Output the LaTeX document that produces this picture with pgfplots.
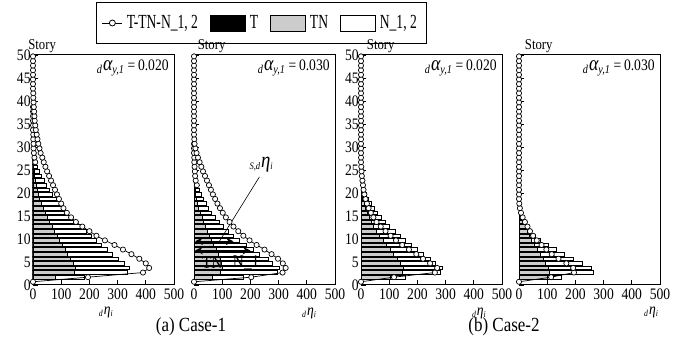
\documentclass[border=0pt]{standalone}
\usepackage{fontspec}
\setmainfont{Liberation Serif}[FakeStretch=0.85]
\newfontfamily\condfont{Liberation Serif}[FakeStretch=0.68]
\usepackage{pgfplots}
\pgfplotsset{compat=1.18}
\usepackage{pgfplotstable}

% circles: y = story position; p1..p4 = panels
\pgfplotstableread{
y p1 p2 p3 p4
0.7 0 0 0 0
1.7 195 203 117 114
2.7 390 314 262 195
3.7 412 325 270 192
4.7 400 315 245 168
5.7 377 298 220 140
6.7 349 275 196 116
7.7 319 250 170 97
8.7 289 222 146 80
9.7 255 197 124 63
10.7 225 175 105 50
11.7 200 157 87 39
12.7 175 140 70 30
13.7 152 126 55 21
14.7 135 113 44 13
15.7 120 102 35 7
16.7 108 92 27 3
17.7 100 83 21 1
18.7 92 75 16 0
19.7 85 67 12 0
20.7 78 60 9 0
21.7 71 53 7 0
22.7 64 46 5 0
23.7 57 39 3 0
24.7 50 32 2 0
25.7 44 26 1 0
26.7 38 20 0 0
27.7 33 14 0 0
28.7 27 9 0 0
29.7 23 5 0 0
30.7 19 2 0 0
31.7 16 1 0 0
32.7 13 0 0 0
33.7 10 0 0 0
34.7 8 0 0 0
35.7 6 0 0 0
36.7 5 0 0 0
37.7 4 0 0 0
38.7 3 0 0 0
39.7 2 0 0 0
40.7 1 0 0 0
41.7 1 0 0 0
42.7 0 0 0 0
43.7 0 0 0 0
44.7 0 0 0 0
45.7 0 0 0 0
46.7 0 0 0 0
47.7 0 0 0 0
48.7 0 0 0 0
49.7 0 0 0 0
}\circtab

% bars: t = TN, n = N_1,2 end (total)
\pgfplotstableread{
y t1 n1 t2 n2 t3 n3 t4 n4
1.7 80 183 65 174 105 156 100 150
2.7 148 335 95 297 145 280 108 265
3.7 150 340 100 303 150 290 103 258
4.7 143 322 98 279 140 265 95 226
5.7 133 302 92 262 128 245 85 191
6.7 123 282 85 232 115 222 75 159
7.7 113 262 78 209 103 200 65 133
8.7 103 243 70 185 90 178 55 103
9.7 94 225 62 160 78 158 45 77
10.7 85 207 55 140 66 138 36 59
11.7 76 188 48 122 55 120 28 42
12.7 67 170 40 105 45 102 21 31
13.7 58 153 34 90 36 86 15 21
14.7 50 137 28 76 28 72 10 14
15.7 42 122 22 63 21 58 6 9
16.7 35 108 16 52 15 46 3 5
17.7 29 95 12 42 10 35 0 0
18.7 23 82 8 33 6 26 0 0
19.7 18 70 5 25 4 18 0 0
20.7 14 58 3 18 2 12 0 0
21.7 10 48 1 11 1 7 0 0
22.7 7 39 0 6 0 4 0 0
23.7 5 31 0 0 0 0 0 0
24.7 3 24 0 0 0 0 0 0
25.7 2 17 0 0 0 0 0 0
26.7 1 11 0 0 0 0 0 0
27.7 0 6 0 0 0 0 0 0
}\bartab

\pgfplotstableread{
y q
26.7 8
27.7 5
28.7 3
29.7 2
30.7 2
31.7 1
32.7 1
33.7 0
34.7 0
35.7 0
36.7 0
37.7 0
38.7 0
}\innerA

\pgfplotstableread{
y q
21.7 10
22.7 6
23.7 4
24.7 3
25.7 2
26.7 1
27.7 1
28.7 0
29.7 0
30.7 0
}\innerB

\pgfplotsset{
  panel/.style={
    scale only axis, width=70.5pt, height=115pt,
    xmin=0, xmax=500, ymin=0, ymax=50,
    xtick={0,100,...,500}, ytick={0,5,...,50},
    tick align=inside, xtick pos=left, ytick pos=left,
    major tick length=2.5pt,
    tick style={black, line width=0.4pt},
    axis line style={line width=0.5pt},
    ticklabel style={font=\fontsize{8}{8}\selectfont},
    xticklabel style={inner sep=1.5pt},
    yticklabel style={inner sep=1pt},
    /pgf/number format/assume math mode=true,
    clip=false, anchor=origin,
  },
  circ/.style={black, line width=0.35pt, mark=*, mark size=1.3pt,
    mark options={fill=white, draw=black, solid, line width=0.35pt}, forget plot},
  wbar/.style={xbar, bar width=0.78, bar shift=0pt, fill=white, draw=black, line width=0.3pt, forget plot},
  gbar/.style={xbar, bar width=0.78, bar shift=0pt, fill=gray!40, draw=black, line width=0.3pt, forget plot},
  rectleg/.style={legend image code/.code={\draw[##1] (0pt,-4pt) rectangle (17.5pt,4pt);}},
  lineleg/.style={legend image code/.code={\draw[mark repeat=2,mark phase=2,##1] plot coordinates {(0pt,0pt) (5pt,0pt) (10pt,0pt)};}},
}

\newcommand{\alphalabel}[1]{\node[anchor=east, inner sep=0pt, font=\fontsize{8}{8}\selectfont]
  at (rel axis cs:1,1) [xshift=-2.5pt, yshift=-6.5pt]
  {\textsubscript{\itshape d}{\itshape\fontsize{10.5}{10.5}\selectfont α}\textsubscript{\itshape y,1}\,=\,#1};}
\newcommand{\storylabel}[1]{\node[anchor=south, inner sep=1pt, font=\fontsize{7.5}{7.5}\selectfont]
  at (rel axis cs:#1,1) {Story};}
\newcommand{\etalabel}[2]{\node[font=\fontsize{6.5}{6.5}\selectfont, inner sep=0pt]
  at (rel axis cs:#1,0) [yshift=-#2] {\textsubscript{\itshape d}{\itshape\fontsize{8}{8}\selectfont η}\textsubscript{\itshape i}};}

\newcommand{\panelplots}[3]{%
  \addplot[wbar] table[x=#2, y=y]{\bartab};
  \addplot[gbar] table[x=#1, y=y]{\bartab};
  \addplot[circ] table[x=#3, y=y]{\circtab};
}

\begin{document}
\begin{tikzpicture}
\useasboundingbox (0,0) rectangle (343pt,170pt);

% ---------- panel 1 ----------
\begin{axis}[panel, at={(16.5pt,27.5pt)},
  legend columns=4,
  legend style={at={(1.62,1.139)}, anchor=center, draw=black, line width=0.4pt,
    font=\condfont\fontsize{10}{10}\selectfont, inner xsep=3pt, inner ysep=4pt,
    /tikz/every even column/.append style={column sep=4pt}},
  legend cell align=left]
\addlegendimage{lineleg, black, line width=0.4pt, mark=*, mark size=1.5pt, mark options={fill=white, draw=black}}
\addlegendentry{T-TN-N\_1, 2}
\addlegendimage{rectleg, fill=black, draw=black}
\addlegendentry{T}
\addlegendimage{rectleg, fill=gray!40, draw=black}
\addlegendentry{TN}
\addlegendimage{rectleg, fill=white, draw=black}
\addlegendentry{N\_1, 2}
\addplot[circ] table[x=q, y=y]{\innerA};
\panelplots{t1}{n1}{p1}
\storylabel{0.065}
\alphalabel{0.020}
\etalabel{0.52}{13.5pt}
\end{axis}

% ---------- panel 2 ----------
\begin{axis}[panel, at={(97pt,27.5pt)}, yticklabels={}]
\addplot[circ] table[x=q, y=y]{\innerB};
\panelplots{t2}{n2}{p2}
\storylabel{0.125}
\alphalabel{0.030}
\etalabel{0.82}{14pt}
\draw[line width=0.3pt] (axis cs:232,23.5) -- (axis cs:86,9.1);
\node[font=\fontsize{7}{7}\selectfont, inner sep=0pt] at (axis cs:240,26.2)
  {\textsubscript{\itshape S,d}{\itshape\fontsize{11}{11}\selectfont η}\textsubscript{\itshape i}};
\draw[<->, >=stealth, line width=0.7pt] (axis cs:4,9.5) -- (axis cs:140,9.5);
\draw[<->, >=stealth, line width=0.7pt] (axis cs:4,7.5) -- (axis cs:200,7.5);
\node[font=\fontsize{9}{9}\selectfont, inner sep=0pt] at (axis cs:65,4.9) {TN};
\node[font=\fontsize{9}{9}\selectfont, inner sep=0pt] at (axis cs:185,4.9) {N\_1};
\end{axis}

% ---------- panel 3 ----------
\begin{axis}[panel, at={(180.5pt,27.5pt)}]
\panelplots{t3}{n3}{p3}
\storylabel{0.14}
\alphalabel{0.020}
\etalabel{0.84}{14pt}
\end{axis}

% ---------- panel 4 ----------
\begin{axis}[panel, at={(259.5pt,27.5pt)}, yticklabels={}]
\panelplots{t4}{n4}{p4}
\storylabel{0.14}
\alphalabel{0.030}
\etalabel{0.94}{13.5pt}
\end{axis}

\node[font=\fontsize{10}{10}\selectfont] at (95.5pt,6.5pt) {(a) Case-1};
\node[font=\fontsize{10}{10}\selectfont] at (252pt,6.5pt) {(b) Case-2};
\end{tikzpicture}
\end{document}
